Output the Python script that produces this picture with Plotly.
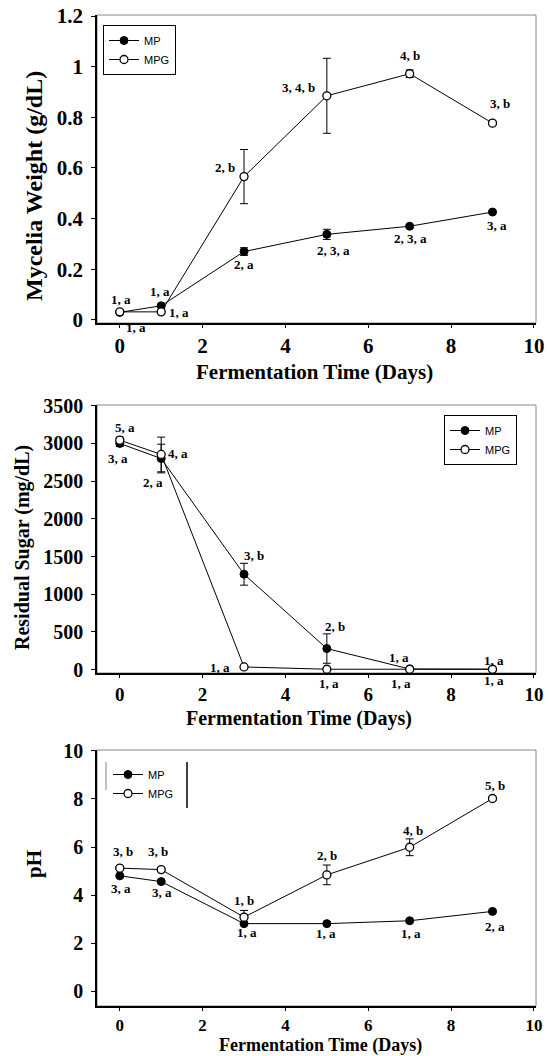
import plotly.graph_objects as go

# ---------------- data ----------------
days = [0, 1, 3, 5, 7, 9]

weight_mp = [0.030, 0.056, 0.270, 0.338, 0.370, 0.426]
weight_mp_err = [0.005, 0.006, 0.015, 0.020, 0.006, 0.005]
weight_mpg = [0.032, 0.032, 0.566, 0.885, 0.972, 0.777]
weight_mpg_err = [0.005, 0.004, 0.107, 0.148, 0.015, 0.005]

sugar_mp = [3000, 2800, 1265, 279, 8, 5]
sugar_mp_err = [40, 190, 145, 195, 0, 0]
sugar_mpg = [3044, 2854, 35, 5, 5, 5]
sugar_mpg_err = [40, 230, 15, 0, 0, 0]

ph_mp = [4.80, 4.56, 2.81, 2.81, 2.93, 3.32]
ph_mp_err = [0.05, 0.05, 0.05, 0.03, 0.05, 0.05]
ph_mpg = [5.12, 5.06, 3.08, 4.84, 5.99, 8.02]
ph_mpg_err = [0.05, 0.05, 0.28, 0.41, 0.35, 0.08]

series_names = ["MP", "MPG"]
x_title = "Fermentation Time (Days)"
y_titles = ["Mycelia Weight (g/dL)", "Residual Sugar (mg/dL)", "pH"]

# significance labels: (x, y, text) in data units of each panel
weight_labels = [(0.04, 0.082, "1, a"), (0.38, -0.03, "1, a"), (0.96, 0.114, "1, a"),
                 (1.42, 0.030, "1, a"), (2.54, 0.602, "2, b"), (3.00, 0.218, "2, a"),
                 (4.32, 0.918, "3, 4, b"), (5.15, 0.274, "2, 3, a"), (7.00, 1.044, "4, b"),
                 (7.02, 0.320, "2, 3, a"), (9.17, 0.853, "3, b"), (9.10, 0.372, "3, a")]
sugar_labels = [(0.13, 3210, "5, a"), (-0.04, 2805, "3, a"), (1.41, 2872, "4, a"),
                (0.80, 2484, "2, a"), (3.25, 1514, "3, b"), (2.42, 22, "1, a"),
                (5.19, 570, "2, b"), (5.06, -178, "1, a"), (6.75, 160, "1, a"),
                (6.79, -178, "1, a"), (9.03, 125, "1, a"), (9.03, -151, "1, a")]
ph_labels = [(0.07, 5.81, "3, b"), (0.04, 4.26, "3, a"), (0.93, 5.81, "3, b"),
             (1.01, 4.11, "3, a"), (3.00, 3.78, "1, b"), (3.08, 2.42, "1, a"),
             (5.00, 5.63, "2, b"), (4.98, 2.38, "1, a"), (7.07, 6.67, "4, b"),
             (7.02, 2.38, "1, a"), (9.07, 8.55, "5, b"), (9.07, 2.67, "2, a")]

# ---------------- layout helpers ----------------
W, H = 549, 1056
SERIF = "Liberation Serif"
SANS = "Liberation Sans"

def px(xp):
    return xp / W

def py(yp):
    return 1 - yp / H

x_dom = [px(97), px(536)]
panels = [
    dict(top=15, bottom=323, yrange=[-0.012, 1.204], dtick=0.2, tsize=21, xtsize=21,
         mp=weight_mp, mpe=weight_mp_err, mpg=weight_mpg, mpge=weight_mpg_err,
         labels=weight_labels),
    dict(top=405, bottom=673, yrange=[-45, 3510], dtick=500, tsize=20, xtsize=19,
         mp=sugar_mp, mpe=sugar_mp_err, mpg=sugar_mpg, mpge=sugar_mpg_err,
         labels=sugar_labels),
    dict(top=750, bottom=1006, yrange=[-0.62, 10.04], dtick=2, tsize=20, xtsize=17,
         mp=ph_mp, mpe=ph_mp_err, mpg=ph_mpg, mpge=ph_mpg_err,
         labels=ph_labels),
]

fig = go.Figure()
annotations = []
shapes = []

for i, p in enumerate(panels):
    n = i + 1
    xa = "x" if n == 1 else f"x{n}"
    ya = "y" if n == 1 else f"y{n}"
    leg = "legend" if n == 1 else f"legend{n}"
    err_style = dict(type="data", visible=True, color="black", thickness=1, width=4)
    fig.add_trace(go.Scatter(
        x=days, y=p["mp"], name=series_names[0], mode="lines+markers",
        line=dict(color="black", width=1),
        marker=dict(symbol="circle", size=8, color="black", line=dict(color="black", width=1)),
        error_y=dict(array=p["mpe"], **err_style),
        xaxis=xa, yaxis=ya, legend=leg))
    fig.add_trace(go.Scatter(
        x=days, y=p["mpg"], name=series_names[1], mode="lines+markers",
        line=dict(color="black", width=1),
        marker=dict(symbol="circle", size=8, color="white", line=dict(color="black", width=1.3)),
        error_y=dict(array=p["mpge"], **err_style),
        xaxis=xa, yaxis=ya, legend=leg))

    ydom = [py(p["bottom"]), py(p["top"])]
    axis_common = dict(showgrid=False, zeroline=False, showline=True, linecolor="black",
                       linewidth=1.5, ticks="outside", tickcolor="black",
                       tickwidth=1, automargin=False)
    fig.update_layout(**{
        ("xaxis" if n == 1 else f"xaxis{n}"): dict(
            domain=x_dom, range=[-0.55, 10.05], dtick=2, tick0=0, ticklen=3,
            anchor=ya, tickfont=dict(family=SERIF, size=p["xtsize"], color="black", weight="bold"),
            **axis_common),
        ("yaxis" if n == 1 else f"yaxis{n}"): dict(
            domain=ydom, range=p["yrange"], dtick=p["dtick"], tick0=0, ticklen=4,
            anchor=xa, ticklabelstandoff=4,
            tickfont=dict(family=SERIF, size=p["tsize"], color="black", weight="bold"),
            **axis_common),
    })
    # thin grey frame (top/right)
    shapes.append(dict(type="rect", xref=f"{xa} domain", yref=f"{ya} domain",
                       x0=0, x1=1, y0=0, y1=1, line=dict(color="#888", width=1),
                       layer="below"))
    r0, r1 = p["yrange"]
    for (lx, ly, t) in p["labels"]:
        annotations.append(dict(x=lx, y=(ly - r0) / (r1 - r0), xref=xa, yref=f"{ya} domain",
                                text=t, showarrow=False, xanchor="center", yanchor="middle",
                                font=dict(family=SERIF, size=13, color="black", weight="bold")))

# axis titles
title_pos = [
    (314, 372, 34, 186, 24, 21),
    (299, 718, 22, 548, 20, 20),
    (320, 1045, 34, 864, 21, 18),
]
for i, (tx, ty, yx, yy, ys, xs) in enumerate(title_pos):
    annotations.append(dict(x=px(tx), y=py(ty), xref="paper", yref="paper", text=x_title,
                            showarrow=False, xanchor="center", yanchor="middle",
                            font=dict(family=SERIF, size=xs, color="black", weight="bold")))
    annotations.append(dict(x=px(yx), y=py(yy), xref="paper", yref="paper", text=y_titles[i],
                            showarrow=False, xanchor="center", yanchor="middle", textangle=-90,
                            font=dict(family=SERIF, size=ys, color="black", weight="bold")))

# partial legend frame for the pH panel (only side bars)
shapes.append(dict(type="line", xref="paper", yref="paper", x0=px(106), x1=px(106),
                   y0=py(762), y1=py(790), line=dict(color="#aaa", width=1.5)))
shapes.append(dict(type="line", xref="paper", yref="paper", x0=px(187), x1=px(187),
                   y0=py(762), y1=py(808), line=dict(color="black", width=1.5)))

leg_font = dict(family=SANS, size=11, color="black")
fig.update_layout(
    width=W, height=H,
    margin=dict(l=0, r=0, t=0, b=0),
    paper_bgcolor="white", plot_bgcolor="white",
    showlegend=True,
    legend=dict(x=px(103), y=py(25), xanchor="left", yanchor="top", bgcolor="white",
                bordercolor="black", borderwidth=1, font=leg_font, itemwidth=30,
                tracegroupgap=0),
    legend2=dict(x=px(444), y=py(415), xanchor="left", yanchor="top", bgcolor="white",
                 bordercolor="black", borderwidth=1, font=leg_font, itemwidth=30,
                 tracegroupgap=0),
    legend3=dict(x=px(108), y=py(760), xanchor="left", yanchor="top", bgcolor="rgba(0,0,0,0)",
                 borderwidth=0, font=leg_font, itemwidth=30, tracegroupgap=0),
    annotations=annotations,
    shapes=shapes,
)

fig.write_html("out.html", config={"displayModeBar": False},
               post_script="document.body.style.margin='0';")
